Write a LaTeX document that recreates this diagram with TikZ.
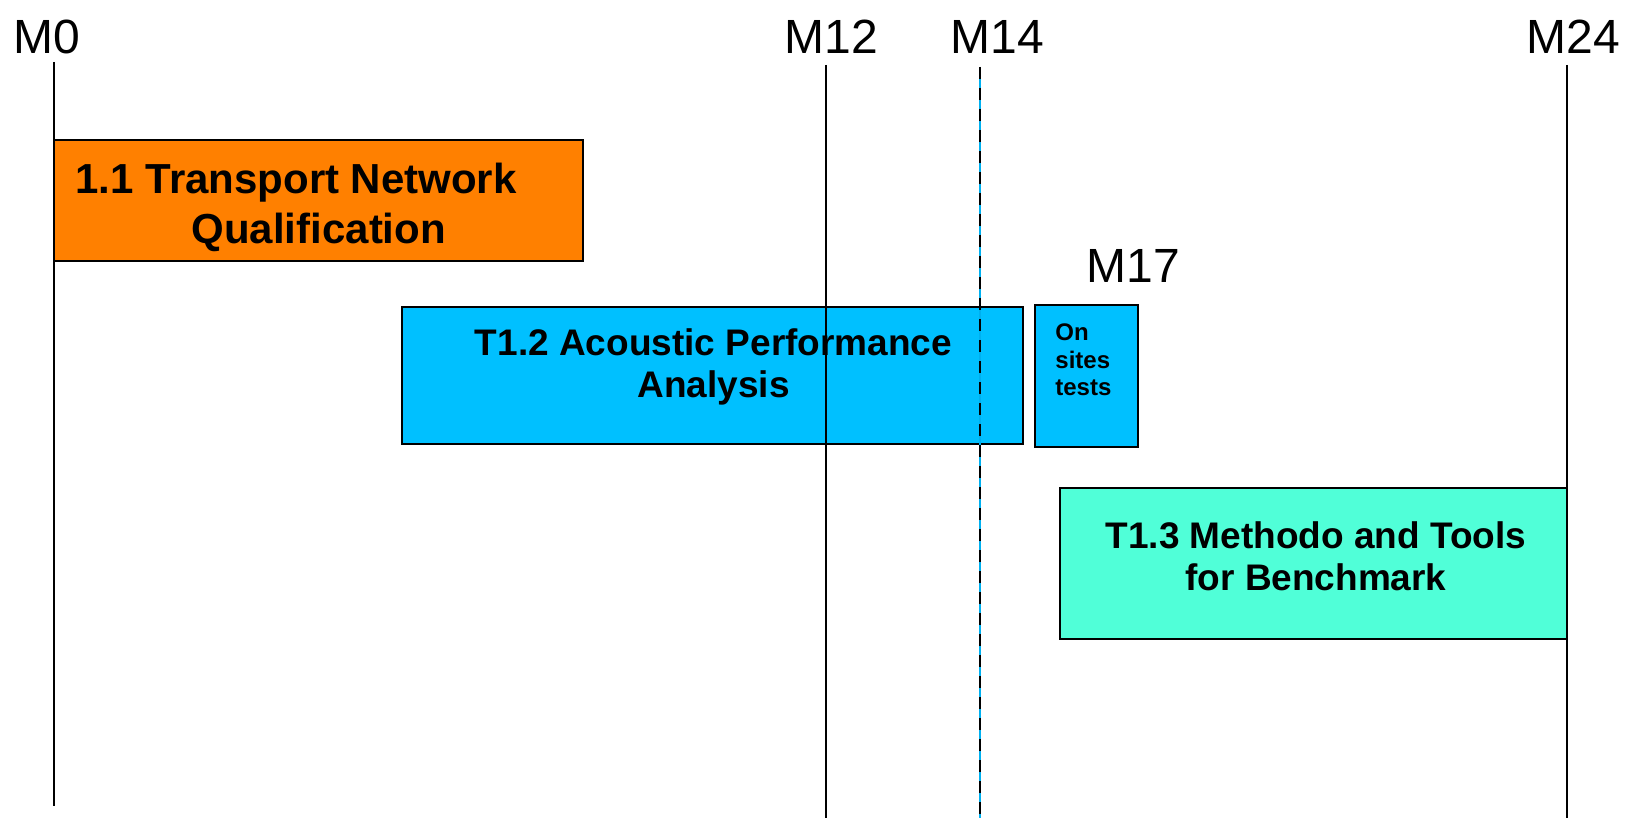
\documentclass[tikz,border=0pt]{standalone}
\usepackage{fontspec}
\setmainfont{Liberation Sans}
\usetikzlibrary{fit}
\definecolor{orangebox}{RGB}{255,128,0}
\definecolor{bluebox}{RGB}{0,192,255}
\definecolor{tealbox}{RGB}{80,255,216}
\definecolor{dashcyan}{RGB}{0,176,240}
\begin{document}
\begin{tikzpicture}[x=0.5pt,y=-0.5pt,
  box/.style={draw=black, line width=1pt, inner sep=0pt},
  ms/.style={font=\fontsize{24}{28}\selectfont, inner sep=0pt},
  tlabel/.style={font=\bfseries\fontsize{18.5}{21}\selectfont, align=center, inner sep=0pt},
  vline/.style={line width=1pt},
]
\useasboundingbox (0,0) rectangle (1638,818);

% milestone labels
\node[ms] (m0)  at (47,36.6) {M0};
\node[ms] (m12) at (831.5,36.6) {M12};
\node[ms] (m14) at (997.6,36.6) {M14};
\node[ms] (m24) at (1573,36.6) {M24};
\node[ms] (m17) at (1133.4,266.4) {M17};

% line end points
\coordinate (m0t) at (54.3,62);
\coordinate (m0b) at (54.3,806);
\coordinate (m12t) at (826.3,65);
\coordinate (m12b) at (826.3,818);
\coordinate (m14t) at (979.9,67);
\coordinate (m14b) at (979.9,818);
\coordinate (m24t) at (1567,65);
\coordinate (m24b) at (1567,818);

% boxes
\coordinate (o1) at (54.3,140);  \coordinate (o2) at (582.9,261.2);
\coordinate (b1) at (402.2,307.1); \coordinate (b2) at (1022.7,444);
\coordinate (s1) at (1035.2,305); \coordinate (s2) at (1137.6,447.1);
\coordinate (t1) at (1060.3,487.8); \coordinate (t2) at (1567,639.3);
\node[box, fill=orangebox, fit={(o1)(o2)}] (t11box) {};
\node[box, fill=bluebox, fit={(b1)(b2)}] (t12box) {};
\node[box, fill=bluebox, fit={(s1)(s2)}] (onsite) {};
\node[box, fill=tealbox, fit={(t1)(t2)}] (t13box) {};

% texts
\node[font=\bfseries\fontsize{21}{25}\selectfont, align=left, inner sep=0pt, anchor=west]
  (t11) at (75.2,207.5) {1.1 Transport Network\\\hspace*{58pt}Qualification};
\node[tlabel] (t12) at (713.5,366.5) {T1.2 Acoustic Performance\\Analysis};
\node[tlabel] (t13) at (1316,556) {T1.3 Methodo and Tools\\for Benchmark};
\node[font=\bfseries\fontsize{12}{13.7}\selectfont, align=left, inner sep=0pt, anchor=west]
  (ost) at (1055,360) {On\\sites\\tests};

% vertical lines
\draw[vline] (m0t) -- (m0b);
\draw[vline] (m12t) -- (m12b);
\draw[vline] (m24t) -- (m24b);
\draw[line width=0.6pt, dashcyan] (m14t) -- (m14b);
\draw[line width=1pt, dash pattern=on 6pt off 4.5pt] (m14t) -- (m14b);
\end{tikzpicture}
\end{document}
